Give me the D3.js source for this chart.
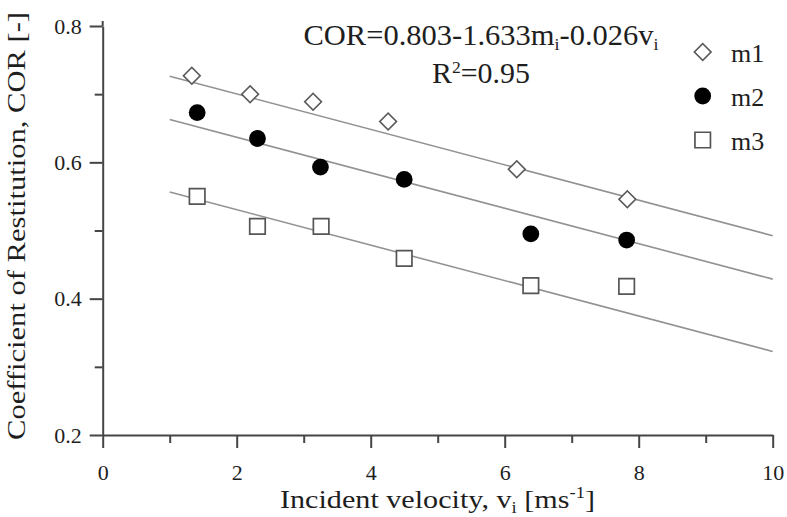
<!DOCTYPE html>
<html>
<head>
<meta charset="utf-8">
<script src="https://cdn.jsdelivr.net/npm/d3@7"></script>
<style>
  html, body { margin: 0; padding: 0; background: #fff; }
  svg text { font-family: "Liberation Serif", "Times New Roman", serif; }
</style>
</head>
<body>
<svg id="chart" width="787" height="517"></svg>
<script>
// Incident velocity (m/s) and measured coefficient of restitution per mass group
const seriesNames = ["m1", "m2", "m3"];
const velocityM1 = [1.33, 2.20, 3.14, 4.26, 6.18, 7.83];
const corM1      = [0.727, 0.700, 0.689, 0.660, 0.590, 0.546];
const velocityM2 = [1.41, 2.31, 3.25, 4.50, 6.39, 7.82];
const corM2      = [0.673, 0.635, 0.593, 0.575, 0.495, 0.486];
const velocityM3 = [1.41, 2.31, 3.26, 4.50, 6.39, 7.82];
const corM3      = [0.550, 0.506, 0.506, 0.459, 0.419, 0.418];

// Fitted model COR = 0.803 - 1.633 m - 0.026 v, drawn for v in [1, 10]
const fitIntercept = 0.803, fitMassCoef = 1.633, fitVelCoef = 0.026;
const massValues = [0.031, 0.070, 0.135];
const fitRange = [1, 10];

const xTickLabels = [0, 2, 4, 6, 8, 10];
const xMinorTicks = [1, 3, 5, 7, 9];
const yTickLabels = [0.2, 0.4, 0.6, 0.8];
const yMinorTicks = [0.3, 0.5, 0.7];

const serif = '"Liberation Serif", "Times New Roman", serif';
const svg = d3.select("#chart");
const x = d3.scaleLinear().domain([0, 10]).range([102.7, 772.7]);
const y = d3.scaleLinear().domain([0.2, 0.8]).range([435, 26]);

const axisColor = "#454545";
const textColor = "#1e1e1e";

// regression lines
const fitLine = d3.line().x(d => x(d[0])).y(d => y(d[1]));
massValues.forEach(m => {
  const pts = fitRange.map(v => [v, fitIntercept - fitMassCoef * m - fitVelCoef * v]);
  svg.append("path").attr("d", fitLine(pts))
    .attr("fill", "none").attr("stroke", "#929292").attr("stroke-width", 1.6);
});

// axes
function styleAxis(g) {
  g.attr("font-family", serif);
  g.selectAll("path.domain").attr("stroke", axisColor).attr("stroke-width", 2);
  g.selectAll(".tick line").attr("stroke", axisColor).attr("stroke-width", 2);
  g.selectAll("text").attr("fill", textColor).style("font-family", serif);
}
const gx = svg.append("g").attr("transform", `translate(0,${y(0.2)})`)
  .call(d3.axisBottom(x).tickValues(xTickLabels).tickFormat(d3.format("d"))
    .tickSize(13).tickPadding(16).tickSizeOuter(0))
  .attr("font-size", 22);
styleAxis(gx);
const gxm = svg.append("g").attr("transform", `translate(0,${y(0.2)})`)
  .call(d3.axisBottom(x).tickValues(xMinorTicks).tickFormat("").tickSize(8).tickSizeOuter(0));
styleAxis(gxm);
gxm.select("path.domain").remove();

const gy = svg.append("g").attr("transform", `translate(${x(0)},0)`)
  .call(d3.axisLeft(y).tickValues(yTickLabels).tickFormat(d3.format(".1f"))
    .tickSize(13).tickPadding(8).tickSizeOuter(0))
  .attr("font-size", 22);
styleAxis(gy);
const gym = svg.append("g").attr("transform", `translate(${x(0)},0)`)
  .call(d3.axisLeft(y).tickValues(yMinorTicks).tickFormat("").tickSize(8).tickSizeOuter(0));
styleAxis(gym);
gym.select("path.domain").remove();
// small extension of the vertical axis above the top tick
svg.append("line").attr("x1", x(0)).attr("x2", x(0))
  .attr("y1", y(0.8) - 5).attr("y2", y(0.8))
  .attr("stroke", axisColor).attr("stroke-width", 2);

// markers
const diamond = d3.symbol().type(d3.symbolSquare).size(140);
const square = d3.symbol().type(d3.symbolSquare).size(240);
function drawMarker(g, name, cx, cy) {
  if (name === "m1") {
    g.append("path").attr("d", diamond())
      .attr("transform", `translate(${cx},${cy}) rotate(45)`)
      .attr("fill", "#fff").attr("stroke", "#5a5a5a").attr("stroke-width", 1.6);
  } else if (name === "m2") {
    g.append("circle").attr("cx", cx).attr("cy", cy).attr("r", 8.4).attr("fill", "#000");
  } else {
    g.append("path").attr("d", square())
      .attr("transform", `translate(${cx},${cy})`)
      .attr("fill", "#fff").attr("stroke", "#555").attr("stroke-width", 1.7);
  }
}
const seriesData = [
  [velocityM1, corM1],
  [velocityM2, corM2],
  [velocityM3, corM3]
];
const gm = svg.append("g");
seriesData.forEach(([vs, cs], i) => {
  vs.forEach((v, j) => drawMarker(gm, seriesNames[i], x(v), y(cs[j])));
});

// legend
const legendY = [52, 96, 140];
seriesNames.forEach((name, i) => {
  drawMarker(svg, name, 702.7, legendY[i]);
  svg.append("text").attr("x", 731).attr("y", legendY[i] + 9.5)
    .attr("font-size", 26).attr("fill", textColor).text(name);
});

// regression equation
const eq = svg.append("text").attr("x", 481).attr("y", 45)
  .attr("text-anchor", "middle").attr("font-size", 29).attr("fill", textColor)
  .attr("textLength", 355).attr("lengthAdjust", "spacingAndGlyphs");
eq.append("tspan").text("COR=0.803-1.633m");
eq.append("tspan").attr("font-size", 17).attr("dy", 5).text("i");
eq.append("tspan").attr("dy", -5).text("-0.026v");
eq.append("tspan").attr("font-size", 17).attr("dy", 5).text("i");

const r2 = svg.append("text").attr("x", 481).attr("y", 83.3)
  .attr("text-anchor", "middle").attr("font-size", 29).attr("fill", textColor)
  .attr("textLength", 98).attr("lengthAdjust", "spacingAndGlyphs");
r2.append("tspan").text("R");
r2.append("tspan").attr("font-size", 17).attr("dy", -10).text("2");
r2.append("tspan").attr("dy", 10).text("=0.95");

// axis titles
const xt = svg.append("text").attr("x", 437.5).attr("y", 508)
  .attr("text-anchor", "middle").attr("font-size", 26).attr("fill", textColor)
  .attr("textLength", 315).attr("lengthAdjust", "spacingAndGlyphs");
xt.append("tspan").text("Incident velocity, v");
xt.append("tspan").attr("font-size", 16).attr("dy", 5).text("i");
xt.append("tspan").attr("dy", -5).text(" [ms");
xt.append("tspan").attr("font-size", 16).attr("dy", -10).text("-1");
xt.append("tspan").attr("dy", 10).text("]");

svg.append("text")
  .attr("transform", "translate(25,226) rotate(-90)")
  .attr("text-anchor", "middle").attr("font-size", 25).attr("fill", textColor)
  .attr("textLength", 428).attr("lengthAdjust", "spacingAndGlyphs")
  .text("Coefficient of Restitution, COR [-]");
</script>
</body>
</html>
